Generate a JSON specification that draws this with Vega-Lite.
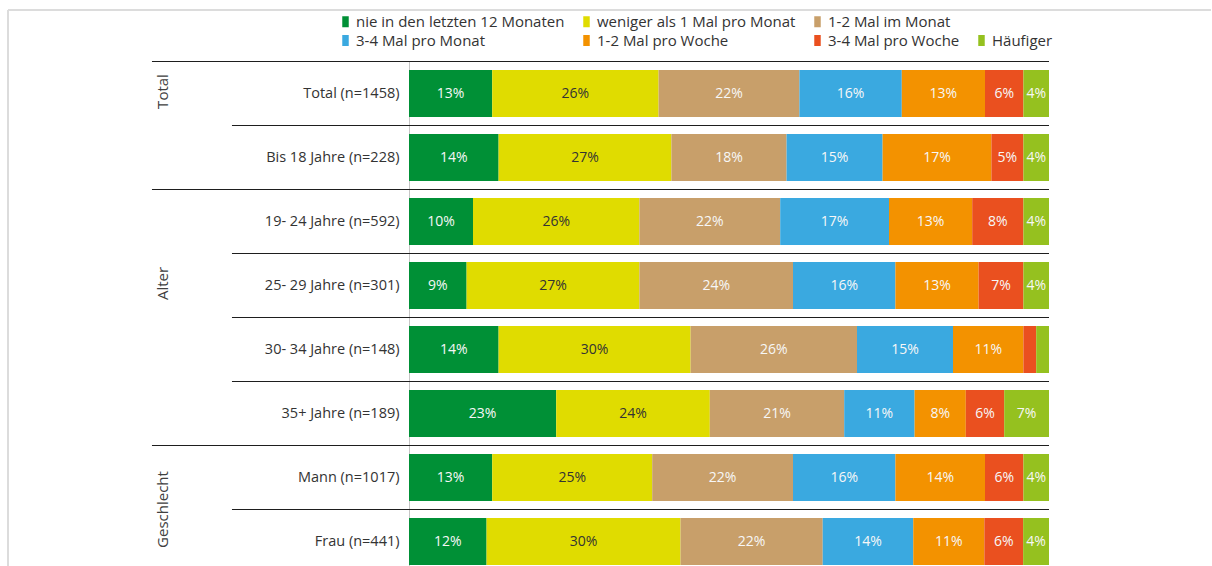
{
  "$schema": "https://vega.github.io/schema/vega-lite/v6.json",
  "width": 1204,
  "height": 556,
  "autosize": {"type": "none"},
  "padding": {"left": 8, "top": 10, "right": 0, "bottom": 0},
  "config": {
    "font": "Open Sans",
    "view": {"stroke": "#dcdcdc", "strokeWidth": 2, "strokeDash": [1203, 1761, 556, 0]}
  },
  "datasets": {
    "rows": [
      {"row": "Total (n=1458)", "first": true, "c1": 0.13, "c2": 0.26, "c3": 0.22, "c4": 0.16, "c5": 0.13, "c6": 0.06, "c7": 0.04},
      {"row": "Bis 18 Jahre (n=228)", "first": false, "c1": 0.14, "c2": 0.27, "c3": 0.18, "c4": 0.15, "c5": 0.17, "c6": 0.05, "c7": 0.04},
      {"row": "19- 24 Jahre (n=592)", "first": true, "c1": 0.10, "c2": 0.26, "c3": 0.22, "c4": 0.17, "c5": 0.13, "c6": 0.08, "c7": 0.04},
      {"row": "25- 29 Jahre (n=301)", "first": false, "c1": 0.09, "c2": 0.27, "c3": 0.24, "c4": 0.16, "c5": 0.13, "c6": 0.07, "c7": 0.04},
      {"row": "30- 34 Jahre (n=148)", "first": false, "c1": 0.14, "c2": 0.30, "c3": 0.26, "c4": 0.15, "c5": 0.11, "c6": 0.02, "c7": 0.02},
      {"row": "35+ Jahre (n=189)", "first": false, "c1": 0.23, "c2": 0.24, "c3": 0.21, "c4": 0.11, "c5": 0.08, "c6": 0.06, "c7": 0.07},
      {"row": "Mann (n=1017)", "first": true, "c1": 0.13, "c2": 0.25, "c3": 0.22, "c4": 0.16, "c5": 0.14, "c6": 0.06, "c7": 0.04},
      {"row": "Frau (n=441)", "first": false, "c1": 0.12, "c2": 0.30, "c3": 0.22, "c4": 0.14, "c5": 0.11, "c6": 0.06, "c7": 0.04}
    ],
    "cats": [
      {"k": "c1", "cat": "nie in den letzten 12 Monaten"},
      {"k": "c2", "cat": "weniger als 1 Mal pro Monat"},
      {"k": "c3", "cat": "1-2 Mal im Monat"},
      {"k": "c4", "cat": "3-4 Mal pro Monat"},
      {"k": "c5", "cat": "1-2 Mal pro Woche"},
      {"k": "c6", "cat": "3-4 Mal pro Woche"},
      {"k": "c7", "cat": "Häufiger"}
    ]
  },
  "layer": [
    {
      "data": {"name": "rows"},
      "transform": [
        {"fold": ["c1", "c2", "c3", "c4", "c5", "c6", "c7"], "as": ["k", "v"]},
        {"lookup": "k", "from": {"data": {"name": "cats"}, "key": "k", "fields": ["cat"]}}
      ],
      "mark": {"type": "bar", "height": {"band": 0.734}},
      "encoding": {
        "y": {
          "field": "row", "type": "nominal",
          "scale": {
            "domain": ["Total (n=1458)", "Bis 18 Jahre (n=228)", "19- 24 Jahre (n=592)", "25- 29 Jahre (n=301)", "30- 34 Jahre (n=148)", "35+ Jahre (n=189)", "Mann (n=1017)", "Frau (n=441)"],
            "range": [51.5, 563.5], "paddingInner": 0, "paddingOuter": 0
          },
          "axis": {"title": null, "ticks": false, "offset": -401, "labelPadding": 10, "labelFontSize": 14.5, "labelColor": "#333333", "domainColor": "#c6c6c6", "labelLimit": 300}
        },
        "x": {"field": "v", "type": "quantitative", "stack": "normalize", "scale": {"domain": [0, 1], "range": [401, 1041]}, "axis": null},
        "color": {
          "field": "cat", "type": "nominal",
          "scale": {
            "domain": ["nie in den letzten 12 Monaten", "weniger als 1 Mal pro Monat", "1-2 Mal im Monat", " ", "3-4 Mal pro Monat", "1-2 Mal pro Woche", "3-4 Mal pro Woche", "Häufiger"],
            "range": ["#009036", "#e0dc00", "#c89f6a", "#ffffff", "#3aa9e0", "#f39200", "#ea501f", "#95c11f"]
          },
          "legend": {"orient": "none", "legendX": 330, "legendY": 4, "direction": "horizontal", "columns": 4, "title": null, "symbolType": "M-0.59,-1H0.59V1H-0.59Z", "symbolSize": 121, "symbolStrokeWidth": 0, "labelFontSize": 15, "labelColor": "#333333", "labelLimit": 400, "columnPadding": 14, "rowPadding": 3, "labelOffset": 3, "padding": 0}
        },
        "order": {"field": "k"}
      }
    },
    {
      "data": {"name": "rows"},
      "transform": [
        {"fold": ["c1", "c2", "c3", "c4", "c5", "c6", "c7"], "as": ["k", "v"]}
      ],
      "mark": {"type": "text", "fontSize": 14},
      "encoding": {
        "y": {"field": "row", "type": "nominal"},
        "x": {"field": "v", "type": "quantitative", "stack": "normalize", "bandPosition": 0.5},
        "detail": {"field": "k"},
        "order": {"field": "k"},
        "text": {"condition": {"test": "datum.v < 0.04", "value": ""}, "field": "v", "type": "quantitative", "format": ".0%"},
        "color": {"condition": {"test": "datum.k === 'c2'", "value": "#333333"}, "value": "#f7f7f7"}
      }
    },
    {
      "data": {"name": "rows"},
      "transform": [{"filter": "datum.first"}],
      "mark": {"type": "rule", "color": "#1e1e1e", "strokeWidth": 1},
      "encoding": {
        "y": {"field": "row", "type": "nominal", "bandPosition": 0},
        "x": {"datum": -0.4016},
        "x2": {"datum": 1}
      }
    },
    {
      "data": {"name": "rows"},
      "transform": [{"filter": "!datum.first"}],
      "mark": {"type": "rule", "color": "#1e1e1e", "strokeWidth": 1},
      "encoding": {
        "y": {"field": "row", "type": "nominal", "bandPosition": 0},
        "x": {"datum": -0.2766},
        "x2": {"datum": 1}
      }
    },
    {
      "data": {"values": [{"g": "Total", "at": "Total (n=1458)"}, {"g": "Alter", "at": "25- 29 Jahre (n=301)"}]},
      "mark": {"type": "text", "angle": 270, "fontSize": 15, "color": "#404040", "dx": 2},
      "encoding": {
        "y": {"field": "at", "type": "nominal"},
        "x": {"datum": -0.3844},
        "text": {"field": "g"}
      }
    },
    {
      "data": {"values": [{"g": "Geschlecht", "at": "Frau (n=441)"}]},
      "mark": {"type": "text", "angle": 270, "fontSize": 15, "color": "#404040"},
      "encoding": {
        "y": {"field": "at", "type": "nominal", "bandPosition": 0},
        "x": {"datum": -0.3844},
        "text": {"field": "g"}
      }
    }
  ]
}
